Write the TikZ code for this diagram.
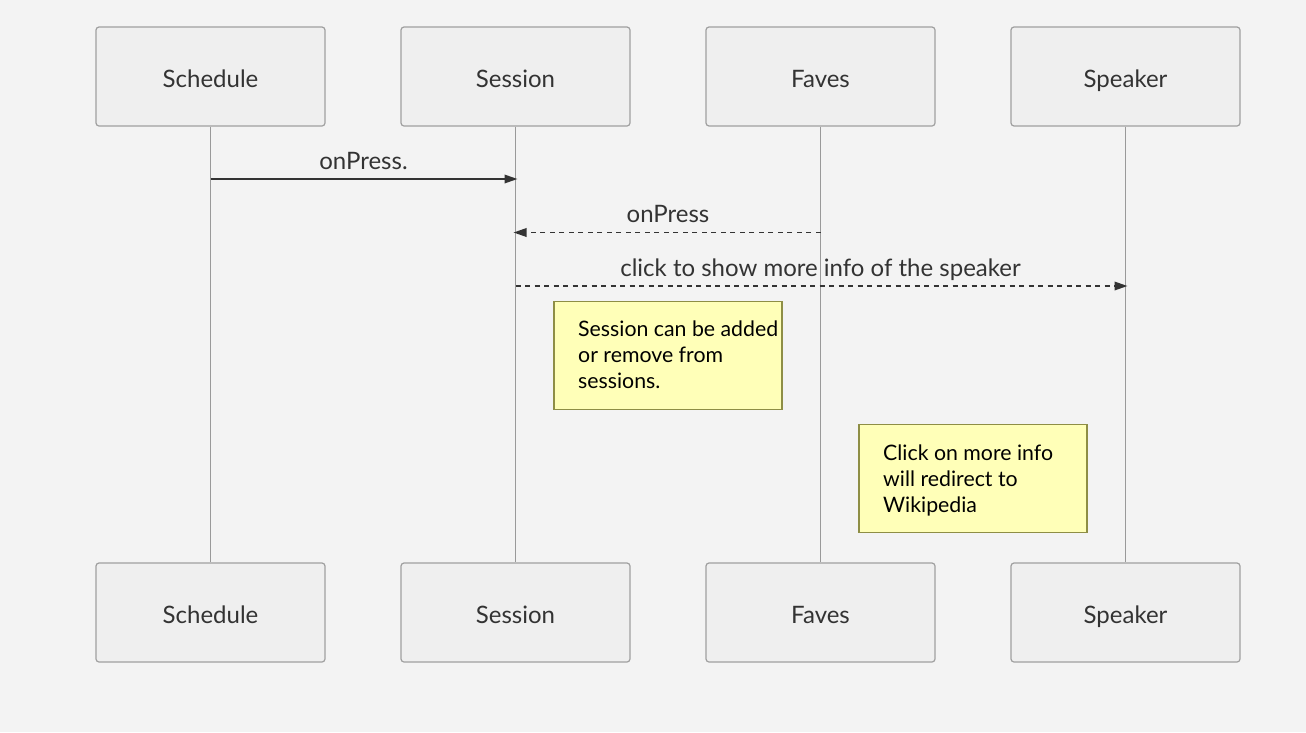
\documentclass[tikz,border=0pt]{standalone}
\usepackage{fontspec}
\setmainfont{Lato}
\usetikzlibrary{arrows.meta}
\definecolor{bg}{HTML}{F3F3F3}
\definecolor{boxfill}{HTML}{EFEFEF}
\definecolor{boxline}{HTML}{A0A0A0}
\definecolor{lifeline}{HTML}{999999}
\definecolor{txt}{HTML}{333333}
\definecolor{notefill}{HTML}{FFFFB8}
\definecolor{noteline}{HTML}{8E8E45}
\tikzset{
  part/.style={draw=boxline, line width=1.2pt, fill=boxfill, rounded corners=3pt,
    minimum width=229pt, minimum height=99pt, inner sep=0pt, text=txt,
    text height=22pt, text depth=0pt,
    font=\fontsize{24}{28}\selectfont},
  life/.style={draw=lifeline, line width=1pt},
  msg/.style={draw=txt, line width=1.8pt, -{Triangle[length=13pt,width=8.5pt]}},
  dmsg/.style={msg, line width=1.8pt, dash pattern=on 5pt off 4.5pt},
  lbl/.style={text=txt, font=\fontsize{24}{28}\selectfont, inner sep=0pt, anchor=base},
  note/.style={draw=noteline, line width=1.2pt, fill=notefill, minimum width=228pt,
    minimum height=108pt, inner sep=0pt},
  notetext/.style={font=\fontsize{21.3}{26}\selectfont, align=left, anchor=north west,
    inner sep=0pt, text=black}
}
\begin{document}
\begin{tikzpicture}[x=1pt,y=-1pt]
\useasboundingbox[fill=bg] (0,0) rectangle (1306,732);
% top participants
\node[part] (t1) at (210.5,76.5) {Schedule};
\node[part] (t2) at (515.5,76.5) {Session};
\node[part] (t3) at (820.5,76.5) {Faves};
\node[part] (t4) at (1125.5,76.5) {Speaker};
% bottom participants
\node[part] (b1) at (210.5,612.5) {Schedule};
\node[part] (b2) at (515.5,612.5) {Session};
\node[part] (b3) at (820.5,612.5) {Faves};
\node[part] (b4) at (1125.5,612.5) {Speaker};
% lifelines
\draw[life] (t1) -- (b1);
\draw[life] (t2) -- (b2);
\draw[life] (t3) -- (b3);
\draw[life] (t4) -- (b4);
% message anchor points
\coordinate (m1s) at (210.5,179);
\coordinate (m1e) at (517.5,179);
\coordinate (m2s) at (820.5,232.5);
\coordinate (m2e) at (513.5,232.5);
\coordinate (m3s) at (515.5,286);
\coordinate (m3e) at (1127.5,286);
\draw[msg] (m1s) -- (m1e);
\draw[dmsg] (m2s) -- (m2e);
\draw[dmsg] (m3s) -- (m3e);
\node[lbl] (l1) at (363.5,169) {onPress.};
\node[lbl] (l2) at (668,222) {onPress};
\node[lbl] (l3) at (820.5,276) {click to show more info of the speaker};
% notes
\node[note] (n1) at (668,355.5) {};
\node[notetext] (n1t) at (578,321) {Session can be added\\or remove from\\sessions.};
\node[note] (n2) at (973,478.5) {};
\node[notetext] (n2t) at (883,445) {Click on more info\\will redirect to\\Wikipedia};
\end{tikzpicture}
\end{document}
